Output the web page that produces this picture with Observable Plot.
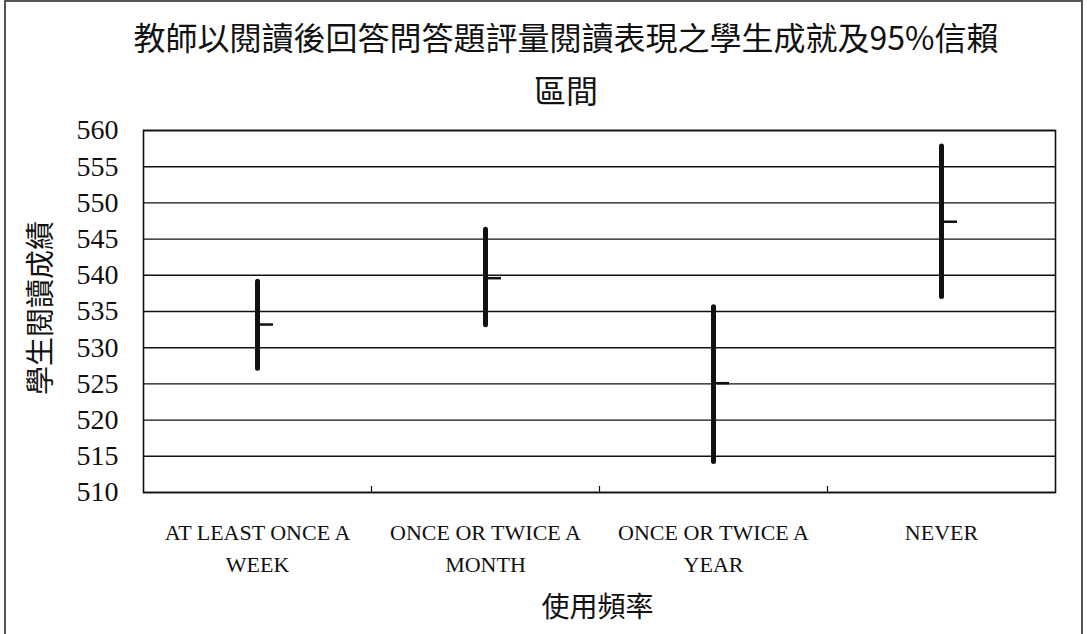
<!DOCTYPE html>
<html>
<head>
<meta charset="utf-8">
<script src="https://cdn.jsdelivr.net/npm/d3@7"></script>
<script src="https://cdn.jsdelivr.net/npm/@observablehq/plot@0.6"></script>
<style>
  html, body { margin: 0; padding: 0; background: white; overflow: hidden; }
  #wrap { position: relative; width: 1087px; height: 634px; background: white; }
  #border { position: absolute; left: 4px; top: 0px; width: 1079px; height: 640px; border: 2px solid #555; box-sizing: border-box; pointer-events: none; }
  #title { position: absolute; top: 10px; left: 566px; transform: translateX(-50%); white-space: nowrap;
           font-family: "Noto Sans CJK TC", sans-serif; font-size: 32px; line-height: 53px; text-align: center; color: #111; }
  #ytitle { position: absolute; left: 38px; top: 308px; transform: translate(-50%, -50%) rotate(-90deg); white-space: nowrap;
           font-family: "Noto Sans CJK TC", sans-serif; font-size: 29px; line-height: 30px; color: #111; }
  #chart { position: absolute; left: 0; top: 0; }
</style>
</head>
<body>
<div id="wrap">
  <div id="chart"></div>
  <div id="title"></div>
  <div id="ytitle"></div>
  <div id="border"></div>
</div>
<script>
const categories = ["AT LEAST ONCE A WEEK", "ONCE OR TWICE A MONTH", "ONCE OR TWICE A YEAR", "NEVER"];
const categoryLabels = ["AT LEAST ONCE A\nWEEK", "ONCE OR TWICE A\nMONTH", "ONCE OR TWICE A\nYEAR", "NEVER"];
const lowerBound = [527.1, 533.1, 514.2, 537.0];
const meanScore = [533.2, 539.6, 525.1, 547.4];
const upperBound = [539.1, 546.3, 535.6, 557.8];
const yTicks = [510, 515, 520, 525, 530, 535, 540, 545, 550, 555, 560];
const titleLines = ["教師以閱讀後回答問答題評量閱讀表現之學生成就及95%信賴", "區間"];
const yTitle = "學生閱讀成績";
const xTitle = "使用頻率";

document.getElementById("title").innerHTML = titleLines.join("<br>");
document.getElementById("ytitle").textContent = yTitle;

const data = categories.map((c, i) => ({
  cat: c, label: categoryLabels[i], lower: lowerBound[i], mean: meanScore[i], upper: upperBound[i]
}));

const W = 1087, H = 634, mL = 143, mR = 32, mT = 130, mB = 142;
const bw = (W - mL - mR) / categories.length;
const plotH = H - mT - mB;

const chart = Plot.plot({
  width: W, height: H,
  marginTop: mT, marginBottom: mB, marginLeft: mL, marginRight: mR,
  x: {domain: categories, padding: 0, axis: null},
  y: {domain: [510, 560], axis: null},
  style: {fontFamily: "'Liberation Serif', serif", color: "#111", background: "white", overflow: "visible"},
  marks: [
    Plot.ruleY(yTicks, {y: d => d, stroke: "#111", strokeWidth: 1.4}),
    Plot.frame({stroke: "#111", strokeWidth: 1.6}),
    Plot.ruleX(categories.slice(1), {x: d => d, dx: -bw / 2, insetTop: plotH - 6, stroke: "#111", strokeWidth: 1.2}),
    Plot.ruleX(data, {x: "cat", y1: "lower", y2: "upper", stroke: "#111", strokeWidth: 5, strokeLinecap: "round"}),
    Plot.tickY(data, {x: "cat", y: "mean", insetLeft: bw / 2, insetRight: bw / 2 - 16, stroke: "#111", strokeWidth: 2.5}),
    Plot.text(yTicks, {y: d => d, text: d => String(d), frameAnchor: "left", dx: -25, textAnchor: "end", fontSize: 28, fill: "#111"}),
    Plot.text(data, {x: "cat", text: "label", frameAnchor: "bottom", lineAnchor: "top", dy: 25, lineHeight: 1.45, fontSize: 22, fill: "#111"}),
    Plot.text([xTitle], {text: d => d, frameAnchor: "bottom", dx: -2, dy: 124, fontFamily: "'Noto Sans CJK TC', sans-serif", fontSize: 28, fill: "#111"})
  ]
});
document.getElementById("chart").appendChild(chart);
</script>
</body>
</html>
